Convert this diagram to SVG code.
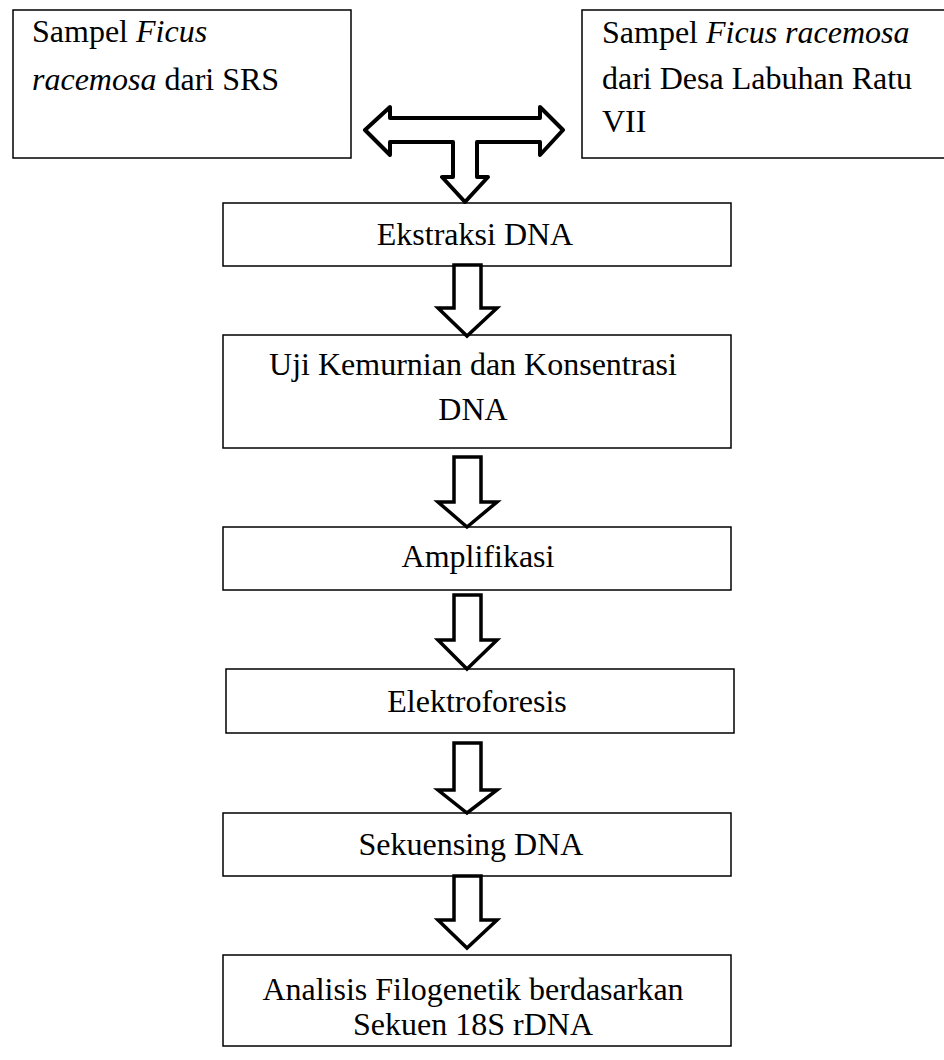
<svg xmlns="http://www.w3.org/2000/svg" width="944" height="1060" viewBox="0 0 944 1060">
<style>
.box{fill:#fff;stroke:#000;stroke-width:1.5}
.t{font-family:"Liberation Serif","Times New Roman",serif;font-size:32px;fill:#000}
.c{text-anchor:middle}
.i{font-style:italic}
.arr{fill:#fff;stroke:#000;stroke-width:3.5;stroke-linejoin:miter}
.tarr{fill:#fff;stroke:#000;stroke-width:4;stroke-linejoin:round}
</style>
<rect width="944" height="1060" fill="#fff"/>
<g id="n1">
<rect class="box" x="13" y="10" width="338" height="148"/>
<text class="t" x="32" y="42">Sampel <tspan class="i">Ficus</tspan></text>
<text class="t" x="32" y="90"><tspan class="i">racemosa</tspan> dari SRS</text>
</g>
<g id="n2">
<rect class="box" x="582" y="10" width="370" height="148"/>
<text class="t" x="602" y="43">Sampel <tspan class="i">Ficus racemosa</tspan></text>
<text class="t" x="602" y="89">dari Desa Labuhan Ratu</text>
<text class="t" x="602" y="132">VII</text>
</g>
<g id="n3">
<rect class="box" x="223" y="203" width="508" height="63"/>
<text class="t c" x="475" y="245">Ekstraksi DNA</text>
</g>
<g id="n4">
<rect class="box" x="223" y="335" width="508" height="113"/>
<text class="t c" x="473" y="375">Uji Kemurnian dan Konsentrasi</text>
<text class="t c" x="473" y="420">DNA</text>
</g>
<g id="n5">
<rect class="box" x="223" y="527" width="508" height="63"/>
<text class="t c" x="478" y="567">Amplifikasi</text>
</g>
<g id="n6">
<rect class="box" x="226" y="669" width="508" height="64"/>
<text class="t c" x="477" y="712">Elektroforesis</text>
</g>
<g id="n7">
<rect class="box" x="223" y="813" width="508" height="63"/>
<text class="t c" x="471" y="855">Sekuensing DNA</text>
</g>
<g id="n8">
<rect class="box" x="223" y="955" width="508" height="91"/>
<text class="t c" x="473" y="1000">Analisis Filogenetik berdasarkan</text>
<text class="t c" x="473" y="1035">Sekuen 18S rDNA</text>
</g>
<g id="connectors">
<polygon class="tarr" points="365,130 390,107 390,118 540,118 540,107 563,130 540,155 540,142 477,142 477,177 488,177 465,202 442,177 453,177 453,142 390,142 390,155"/>
<polygon class="arr" points="454,265 481,265 481,308 497,308 467,336 438,308 454,308"/>
<polygon class="arr" points="454,457 481,457 481,502 497,502 467,527 438,502 454,502"/>
<polygon class="arr" points="454,595 481,595 481,640 497,640 467,669 438,640 454,640"/>
<polygon class="arr" points="454,743 481,743 481,790 497,790 467,813 438,790 454,790"/>
<polygon class="arr" points="454,876 481,876 481,920 497,920 467,948 438,920 454,920"/>
</g>
</svg>
